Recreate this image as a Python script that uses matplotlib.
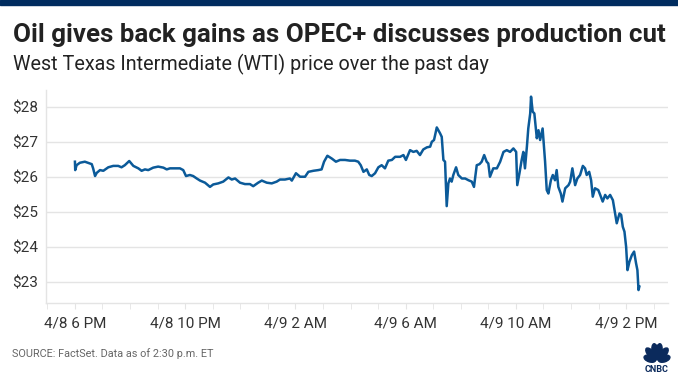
from math import cos, sin, radians

import matplotlib
matplotlib.use('Agg')
from matplotlib import pyplot as plt
from matplotlib.patches import Ellipse, Rectangle

# hours after 4/8 6 PM, WTI price in dollars
hours = [
    0.00, 0.01, 0.06, 0.18, 0.36, 0.54, 0.61, 0.66, 0.73, 0.79, 0.91, 1.03, 1.21, 1.39, 1.57, 1.69,
    1.81, 1.97, 2.12, 2.30, 2.42, 2.54, 2.66, 2.84, 3.02, 3.21, 3.33, 3.45, 3.63, 3.81, 3.93, 4.03,
    4.17, 4.29, 4.42, 4.54, 4.72, 4.90, 5.02, 5.20, 5.38, 5.57, 5.69, 5.81, 5.99, 6.17, 6.35, 6.47,
    6.65, 6.78, 6.96, 7.14, 7.32, 7.44, 7.62, 7.80, 7.87, 8.02, 8.17, 8.35, 8.47, 8.65, 8.83, 8.95,
    9.04, 9.16, 9.32, 9.47, 9.62, 9.80, 9.98, 10.16, 10.28, 10.37, 10.47, 10.59, 10.68, 10.77, 10.89,
    11.01, 11.13, 11.25, 11.37, 11.50, 11.62, 11.80, 11.92, 12.01, 12.16, 12.28, 12.40, 12.52, 12.64,
    12.77, 12.89, 12.95, 13.03, 13.13, 13.25, 13.31, 13.37, 13.43, 13.49, 13.55, 13.61, 13.67, 13.73,
    13.83, 13.91, 14.04, 14.16, 14.28, 14.40, 14.48, 14.58, 14.68, 14.76, 14.85, 14.94, 15.00, 15.06,
    15.18, 15.31, 15.43, 15.55, 15.67, 15.79, 15.91, 16.01, 16.05, 16.13, 16.21, 16.27, 16.33, 16.40,
    16.45, 16.52, 16.55, 16.61, 16.67, 16.76, 16.82, 16.88, 16.97, 17.06, 17.12, 17.18, 17.27, 17.34,
    17.42, 17.48, 17.54, 17.63, 17.69, 17.79, 17.91, 17.97, 18.05, 18.15, 18.23, 18.33, 18.43, 18.51,
    18.57, 18.66, 18.73, 18.79, 18.87, 18.99, 19.06, 19.15, 19.24, 19.32, 19.42, 19.52, 19.60, 19.66,
    19.76, 19.82, 19.88, 19.94, 20.00, 20.05, 20.12, 20.21, 20.29, 20.36, 20.41, 20.45, 20.48,
]
price = [
    26.43, 26.19, 26.33, 26.40, 26.43, 26.38, 26.36, 26.24, 26.02, 26.11, 26.19, 26.17, 26.27, 26.31, 26.31, 26.27,
    26.33, 26.45, 26.31, 26.24, 26.17, 26.21, 26.19, 26.26, 26.29, 26.26, 26.21, 26.24, 26.24, 26.24, 26.19, 26.02,
    26.05, 26.02, 25.95, 25.89, 25.83, 25.71, 25.78, 25.81, 25.86, 25.98, 25.92, 25.95, 25.83, 25.79, 25.79, 25.73,
    25.83, 25.89, 25.83, 25.81, 25.86, 25.92, 25.92, 25.95, 25.89, 26.10, 26.00, 26.00, 26.14, 26.17, 26.19, 26.21,
    26.43, 26.60, 26.52, 26.43, 26.48, 26.48, 26.46, 26.46, 26.43, 26.33, 26.14, 26.21, 26.05, 26.02, 26.10,
    26.27, 26.33, 26.24, 26.46, 26.48, 26.57, 26.57, 26.62, 26.48, 26.76, 26.71, 26.74, 26.62, 26.78,
    26.84, 26.86, 27.00, 27.05, 27.41, 27.24, 27.14, 26.48, 26.43, 25.16, 25.81, 25.95, 25.86, 26.05,
    26.27, 26.05, 25.95, 25.95, 25.90, 25.86, 25.71, 26.33, 26.36, 26.43, 26.62, 26.43, 26.38, 26.00,
    26.24, 26.24, 26.43, 26.71, 26.76, 26.71, 26.81, 26.71, 25.76, 26.10, 26.48, 26.71, 26.24, 26.86,
    27.38, 27.81, 28.29, 27.86, 27.81, 27.10, 27.33, 27.05, 27.38, 26.43, 25.62, 25.52, 25.90, 26.05,
    25.90, 26.19, 25.71, 25.52, 25.29, 25.67, 25.76, 25.86, 26.24, 25.76, 25.95, 26.05, 26.31, 26.24,
    26.05, 26.14, 25.90, 25.43, 25.67, 25.62, 25.48, 25.29, 25.48, 25.38, 25.48, 25.33, 24.95, 24.67,
    24.95, 24.91, 24.57, 24.43, 24.00, 23.33, 23.57, 23.76, 23.86, 23.53, 23.33, 22.76, 22.86,
]

tick_hours = [0, 4, 8, 12, 16, 20]
tick_labels = ['4/8 6 PM', '4/8 10 PM', '4/9 2 AM', '4/9 6 AM', '4/9 10 AM', '4/9 2 PM']
y_ticks = [23, 24, 25, 26, 27, 28]

W, H = 678, 381
LINE = '#0b5a99'
GRID = '#e4e4e4'
TEXT = '#333333'
NAVY = '#0b2a5c'

plt.rcParams['font.family'] = ['Roboto', 'DejaVu Sans']

fig = plt.figure(figsize=(W / 100, H / 100), dpi=100)
fig.patch.set_facecolor('white')

# navy band on top
fig.patches.append(Rectangle((0, 1 - 5 / H), 1, 5 / H, transform=fig.transFigure,
                             color='#002c5f', zorder=0))

fig.text(13 / W, 1 - 42 / H, 'Oil gives back gains as OPEC+ discusses production cut',
         fontsize=18.6, fontweight='bold', color='#222222', ha='left', va='baseline')
fig.text(13 / W, 1 - 70 / H, 'West Texas Intermediate (WTI) price over the past day',
         fontsize=14.2, color='#222222', ha='left', va='baseline')

ax = fig.add_axes([46 / W, 1 - 303 / H, (668 - 46) / W, (303 - 90) / H])
ax.plot(hours, price, color=LINE, linewidth=1.8, solid_joinstyle='round')

ax.set_xlim(-1.05, 21.52)
ax.set_ylim(22.39, 28.48)

ax.set_yticks(y_ticks)
ax.set_yticklabels([f'${v}' for v in y_ticks])
ax.set_xticks(tick_hours)
ax.set_xticklabels(tick_labels)
ax.set_xticks(range(-1, 22), minor=True)
ax.grid(axis='y', color=GRID, linewidth=1)
ax.set_axisbelow(True)

for side in ['top', 'right']:
    ax.spines[side].set_visible(False)
for side in ['left', 'bottom']:
    ax.spines[side].set_color(GRID)
    ax.spines[side].set_linewidth(1)

ax.tick_params(axis='y', length=0, pad=6, labelsize=11, labelcolor=TEXT)
ax.tick_params(axis='x', which='both', length=4, color=GRID, pad=6,
               labelsize=11, labelcolor=TEXT)

fig.text(12 / W, 1 - 357 / H, 'SOURCE: FactSet. Data as of 2:30 p.m. ET',
         fontsize=7.8, color='#666666', ha='left', va='baseline')

# rough CNBC peacock mark, drawn in a small pixel-unit axes
logo = fig.add_axes([638 / W, 1 - 376 / H, 38 / W, 38 / H])
logo.set_xlim(0, 38)
logo.set_ylim(0, 38)
logo.axis('off')
for ang, length in [(18, 12), (50, 15), (80, 16), (100, 16), (130, 15), (162, 12)]:
    r = length / 2 + 1.5
    logo.add_patch(Ellipse((19 + r * cos(radians(ang)), 15 + r * sin(radians(ang))),
                           length, 6.5, angle=ang, color=NAVY))
logo.text(19, 3.5, 'CNBC', fontsize=6.5, fontweight='bold', color=NAVY,
          ha='center', va='baseline')

fig.savefig('out.png', dpi=100, facecolor='white')
